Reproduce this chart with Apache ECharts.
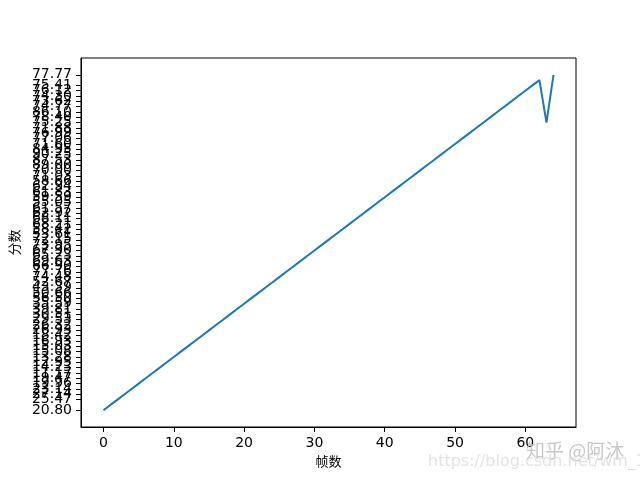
<!DOCTYPE html>
<html>
<head>
<meta charset="utf-8">
<script src="https://cdn.jsdelivr.net/npm/echarts@6/dist/echarts.min.js"></script>
<style>html,body{margin:0;padding:0;background:#fff}#c{width:640px;height:480px}</style>
</head>
<body>
<div id="c"></div>
<script>
// frame numbers
var frames = [];
for (var f = 0; f <= 64; f++) frames.push(f);
// score strings per frame (plotted as categories, like the original)
var frameScores = [
"20.80","23.49","25.47","27.14","23.14","19.96","19.47","11.17","14.23","12.95",
"13.28","15.08","15.03","16.93","18.42","26.93","26.32","29.53","30.51","39.81",
"35.59","56.50","50.66","43.39","52.67","74.48","77.76","66.90","69.63","65.23",
"67.90","73.95","72.15","53.61","58.42","68.21","68.11","62.92","61.57","55.05",
"59.59","61.83","62.94","58.66","71.03","70.00","89.00","87.53","90.25","84.95",
"71.60","77.06","76.99","71.88","75.25","78.40","86.10","74.77","73.62","74.30",
"76.12","75.41","66.69","75.25","77.77"
];
var xTicks = [0, 10, 20, 30, 40, 50, 60];
var xLabel = "帧数";
var yLabel = "分数";

// categories in order of first appearance
var yCategories = [];
frameScores.forEach(function (s) { if (yCategories.indexOf(s) < 0) yCategories.push(s); });
var yIdx = yCategories.map(function (_, i) { return i; });
var seriesData = frames.map(function (fr, i) { return [fr, yCategories.indexOf(frameScores[i])]; });

var nCat = yCategories.length;
var xMin = frames[0], xMax = frames[frames.length - 1];
var xPad = (xMax - xMin) * 0.05, yPad = (nCat - 1) * 0.05;

var chart = echarts.init(document.getElementById('c'), null, {renderer: 'canvas'});
var font = 'DejaVu Sans';
chart.setOption({
  animation: false,
  backgroundColor: '#fff',
  grid: {left: 80, right: 64, top: 58, bottom: 53, show: true, borderColor: '#000', borderWidth: 1, backgroundColor: 'transparent'},
  xAxis: {
    type: 'value', min: xMin - xPad, max: xMax + xPad,
    name: xLabel, nameLocation: 'middle', nameGap: 28,
    nameTextStyle: {fontFamily: 'Noto Sans CJK SC', fontSize: 13, color: '#000'},
    axisLine: {show: true, onZero: false, lineStyle: {color: '#000', width: 1}},
    axisTick: {show: true, length: 5, lineStyle: {color: '#000', width: 1}, customValues: xTicks},
    axisLabel: {color: '#000', fontFamily: font, fontSize: 14, margin: 9, customValues: xTicks, hideOverlap: false},
    splitLine: {show: false}
  },
  yAxis: {
    type: 'value', min: -yPad, max: nCat - 1 + yPad,
    name: yLabel, nameLocation: 'middle', nameGap: 58, nameRotate: 90,
    nameTextStyle: {fontFamily: 'Noto Sans CJK SC', fontSize: 13, color: '#000'},
    axisLine: {show: true, onZero: false, lineStyle: {color: '#000', width: 1}},
    axisTick: {show: true, length: 5, lineStyle: {color: '#000', width: 1}, customValues: yIdx},
    axisLabel: {color: '#000', fontFamily: font, fontSize: 14, margin: 9, customValues: yIdx,
      showMinLabel: true, showMaxLabel: true, hideOverlap: false,
      formatter: function (v) { return yCategories[Math.round(v)]; }},
    splitLine: {show: false}
  },
  series: [{
    type: 'line', data: seriesData, showSymbol: false, symbol: 'none',
    lineStyle: {color: '#1f77b4', width: 2}, itemStyle: {color: '#1f77b4'}
  }],
  graphic: [
    {type: 'text', left: 526, top: 441, z: 100, style: {text: '知乎 @阿沐', fill: 'rgba(190,190,190,0.85)', font: '19px "Noto Sans CJK SC"'}},
    {type: 'text', left: 428, top: 454, z: 100, style: {text: 'https://blog.csdn.net/wm_18', fill: 'rgba(215,215,215,0.7)', font: '16px "DejaVu Sans"'}}
  ]
});
</script>
</body>
</html>
